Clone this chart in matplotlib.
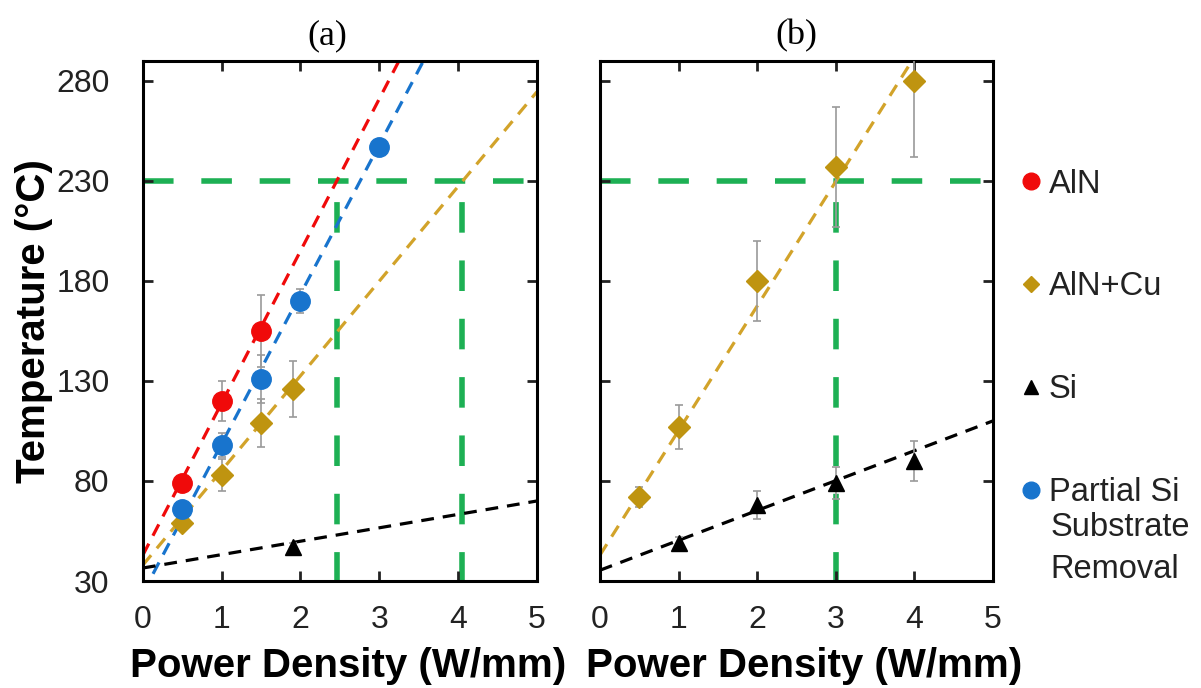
import matplotlib
matplotlib.use('Agg')
import matplotlib.pyplot as plt
from matplotlib.lines import Line2D

plt.rcParams['font.family'] = ['Liberation Sans', 'DejaVu Sans']

# colours
RED = '#F00A0A'
BLUE = '#1874CD'
GOLD = '#BF9410'
GOLD_LINE = '#D2A32A'
BLACK = '#000000'
GREEN = '#1DB054'
ERR = '#9A9A9A'

# ---- panel (a) data ----
a_aln_x = [0.5, 1.0, 1.5]
a_aln_y = [79, 120, 155]
a_aln_err = [3, 10, 18]

a_psi_x = [0.5, 1.0, 1.5, 2.0, 3.0]
a_psi_y = [66, 98, 131, 170, 247]
a_psi_err = [3, 6, 12, 6, 4]

a_cu_x = [0.5, 1.0, 1.5, 1.9]
a_cu_y = [59, 83, 109, 126]
a_cu_err = [3, 8, 12, 14]

a_si_x = [1.9]
a_si_y = [47]
a_si_err = [2]

# fit line end points (x = 0 and x = 5)
fit_x = [0, 5]
a_aln_fit = [43, 423]
a_psi_fit = [24, 397.5]
a_cu_fit = [38, 274.5]
a_si_fit = [36.5, 70]

a_guide_y = 230
a_guide_x = [2.46, 4.05]

# ---- panel (b) data ----
b_cu_x = [0.5, 1.0, 2.0, 3.0, 4.0]
b_cu_y = [72, 107, 180, 237, 280]
b_cu_err = [5, 11, 20, 30, 38]

b_si_x = [1.0, 2.0, 3.0, 4.0]
b_si_y = [49, 68, 79, 90]
b_si_err = [3, 7, 8, 10]

b_cu_fit = [43, 354]
b_si_fit = [35.4, 110]

b_guide_y = 230
b_guide_x = [3.0]

x_ticks = [0, 1, 2, 3, 4, 5]
y_ticks = [30, 80, 130, 180, 230, 280]

fig = plt.figure(figsize=(12.01, 6.88), dpi=100)
ax_a = fig.add_axes([0.119, 0.1555, 0.328, 0.756])
ax_b = fig.add_axes([0.4996, 0.1555, 0.327, 0.756])

green_kw = dict(color=GREEN, linewidth=4, dashes=(5.5, 5), zorder=1)
fit_kw = dict(linewidth=2.3, dashes=(4, 2.8), zorder=2)
err_kw = dict(ecolor=ERR, elinewidth=1.2, capsize=3, capthick=1.2, linestyle='none', zorder=3)


def guides(ax, gy, gxs):
    ax.axhline(gy, **green_kw)
    for gx in gxs:
        ax.plot([gx, gx], [0, gy], **green_kw)


# panel (a)
guides(ax_a, a_guide_y, a_guide_x)
ax_a.plot(fit_x, a_aln_fit, color=RED, **fit_kw)
ax_a.plot(fit_x, a_psi_fit, color=BLUE, **fit_kw)
ax_a.plot(fit_x, a_cu_fit, color=GOLD_LINE, **fit_kw)
ax_a.plot(fit_x, a_si_fit, color=BLACK, **fit_kw)
ax_a.errorbar(a_cu_x, a_cu_y, yerr=a_cu_err, marker='D', markersize=11, color=GOLD, **err_kw)
ax_a.errorbar(a_si_x, a_si_y, yerr=a_si_err, marker='^', markersize=12, color=BLACK, **err_kw)
ax_a.errorbar(a_psi_x, a_psi_y, yerr=a_psi_err, marker='o', markersize=14, color=BLUE, **err_kw)
ax_a.errorbar(a_aln_x, a_aln_y, yerr=a_aln_err, marker='o', markersize=14, color=RED, **err_kw)

# panel (b)
guides(ax_b, b_guide_y, b_guide_x)
ax_b.plot(fit_x, b_cu_fit, color=GOLD_LINE, **fit_kw)
ax_b.plot(fit_x, b_si_fit, color=BLACK, **fit_kw)
ax_b.errorbar(b_cu_x, b_cu_y, yerr=b_cu_err, marker='D', markersize=11, color=GOLD, **err_kw)
ax_b.errorbar(b_si_x, b_si_y, yerr=b_si_err, marker='^', markersize=12, color=BLACK, **err_kw)

for ax, title, tx in [(ax_a, '(a)', 0.468), (ax_b, '(b)', 0.5)]:
    ax.set_xlim(0, 5)
    ax.set_ylim(30, 290)
    ax.set_xticks(x_ticks)
    ax.set_yticks(y_ticks)
    ax.tick_params(direction='in', length=7, width=2, top=True, right=True,
                   labelsize=23, colors='#222222')
    ax.tick_params(axis='x', pad=17)
    ax.tick_params(axis='y', pad=24)
    for s in ax.spines.values():
        s.set_linewidth(2.2)
    ax.set_title(title, fontsize=26, family='Liberation Serif', pad=12, x=tx)
    ax.set_xlabel('Power Density (W/mm)', fontsize=29, fontweight='bold', labelpad=9)
    ax.xaxis.label.set_x(0.52)

ax_b.tick_params(labelleft=False)
ax_a.set_ylabel('Temperature (°C)', fontsize=29, fontweight='bold', labelpad=2)

handles = [
    Line2D([], [], marker='o', color=RED, linestyle='none', markersize=12),
    Line2D([], [], marker='D', color=GOLD, linestyle='none', markersize=8),
    Line2D([], [], marker='^', color=BLACK, linestyle='none', markersize=10),
    Line2D([], [], marker='o', color=BLUE, linestyle='none', markersize=12),
]
labels = ['AlN', 'AlN+Cu', 'Si', 'Partial Si']
fig.legend(handles, labels, loc='upper left', bbox_to_anchor=(0.853, 0.755),
           frameon=False, fontsize=23.5, handlelength=0.4, handletextpad=0.35,
           labelspacing=2.2, borderpad=0, borderaxespad=0, labelcolor='#222222')
fig.text(0.8745, 0.2028, 'Substrate\nRemoval', fontsize=23.5, va='center', ha='left',
         linespacing=1.45, color='#222222')

fig.savefig('out.png', dpi=100)
